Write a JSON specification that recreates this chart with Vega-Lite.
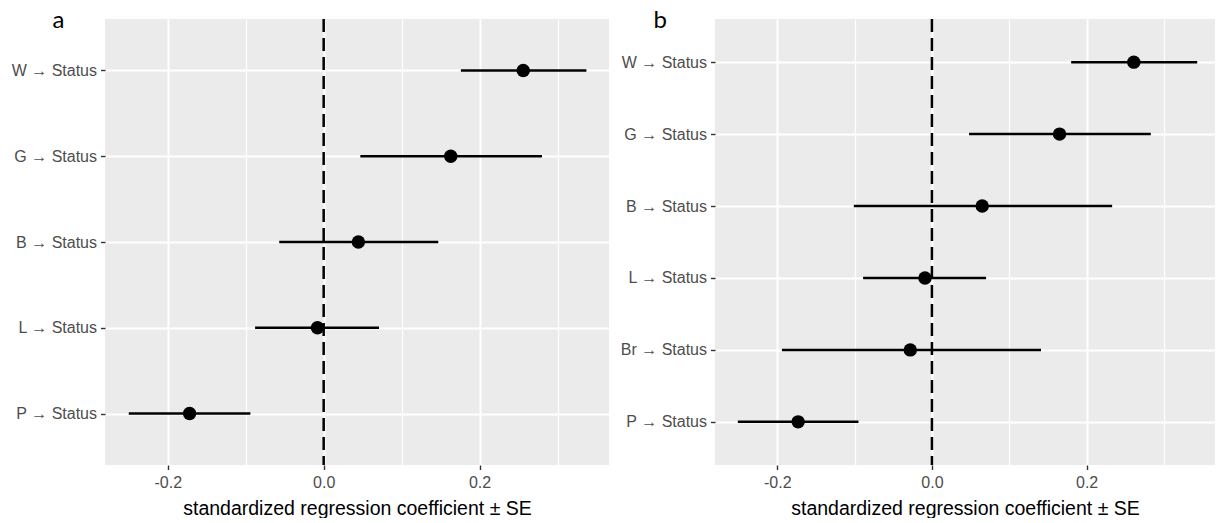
{
  "$schema": "https://vega.github.io/schema/vega-lite/v6.json",
  "background": "white",
  "padding": {"left": 11, "top": 8, "right": 0, "bottom": 0},
  "spacing": 11,
  "datasets": {
    "a": [
      {"path": "W → Status", "est": 0.256, "lo": 0.176, "hi": 0.337},
      {"path": "G → Status", "est": 0.163, "lo": 0.047, "hi": 0.280},
      {"path": "B → Status", "est": 0.0445, "lo": -0.057, "hi": 0.147},
      {"path": "L → Status", "est": -0.008, "lo": -0.088, "hi": 0.071},
      {"path": "P → Status", "est": -0.172, "lo": -0.250, "hi": -0.094}
    ],
    "b": [
      {"path": "W → Status", "est": 0.261, "lo": 0.180, "hi": 0.343},
      {"path": "G → Status", "est": 0.165, "lo": 0.048, "hi": 0.283},
      {"path": "B → Status", "est": 0.065, "lo": -0.101, "hi": 0.233},
      {"path": "L → Status", "est": -0.009, "lo": -0.089, "hi": 0.070},
      {"path": "Br → Status", "est": -0.028, "lo": -0.194, "hi": 0.141},
      {"path": "P → Status", "est": -0.173, "lo": -0.251, "hi": -0.095}
    ],
    "ref": [{"ref": 0}]
  },
  "hconcat": [
    {
      "width": 504,
      "height": 446,
      "layer": [
        {
          "data": {"name": "a"},
          "mark": {"type": "rule", "color": "black", "strokeWidth": 2.5},
          "encoding": {
            "y": {"field": "path", "type": "nominal", "sort": null, "scale": {"type": "point", "padding": 0.6},
              "axis": {"title": "a", "titleX": -53, "titleY": 8, "titleAngle": 0, "titleAlign": "left", "titleBaseline": "alphabetic", "titleFont": "Lato", "titleFontSize": 24, "titleFontWeight": "normal", "titleColor": "black"}},
            "x": {"field": "lo", "type": "quantitative", "title": "standardized regression coefficient ± SE", "scale": {"domain": [-0.2805, 0.366], "nice": false, "zero": false},
              "axis": {
                "values": [-0.2, -0.1, 0, 0.1, 0.2, 0.3],
                "labelExpr": "abs(round(datum.value*10)) % 2 == 1 ? '' : (datum.value < 0 ? '-' : '') + format(abs(datum.value), '.1f')",
                "tickOpacity": {"condition": {"test": "abs(round(datum.value*10)) % 2 == 1", "value": 0}, "value": 1},
                "gridWidth": {"condition": {"test": "abs(round(datum.value*10)) % 2 == 1", "value": 1.2}, "value": 2}
              }},
            "x2": {"field": "hi"}
          }
        },
        {
          "data": {"name": "ref"},
          "mark": {"type": "rule", "color": "black", "strokeWidth": 2.5, "strokeDash": [13, 6]},
          "encoding": {
            "x": {"field": "ref", "type": "quantitative", "title": "standardized regression coefficient ± SE", "scale": {"domain": [-0.2805, 0.366], "nice": false, "zero": false}}
          }
        },
        {
          "data": {"name": "a"},
          "mark": {"type": "point", "filled": true, "shape": "circle", "size": 180, "color": "black", "opacity": 1},
          "encoding": {
            "y": {"field": "path", "type": "nominal", "sort": null, "scale": {"type": "point", "padding": 0.6}},
            "x": {"field": "est", "type": "quantitative", "title": "standardized regression coefficient ± SE", "scale": {"domain": [-0.2805, 0.366], "nice": false, "zero": false}}
          }
        }
      ]
    },
    {
      "width": 500,
      "height": 446,
      "layer": [
        {
          "data": {"name": "b"},
          "mark": {"type": "rule", "color": "black", "strokeWidth": 2.5},
          "encoding": {
            "y": {"field": "path", "type": "nominal", "sort": null, "scale": {"type": "point", "padding": 0.6},
              "axis": {"title": "b", "titleX": -62, "titleY": 8, "titleAngle": 0, "titleAlign": "left", "titleBaseline": "alphabetic", "titleFont": "Lato", "titleFontSize": 24, "titleFontWeight": "normal", "titleColor": "black"}},
            "x": {"field": "lo", "type": "quantitative", "title": "standardized regression coefficient ± SE", "scale": {"domain": [-0.2805, 0.366], "nice": false, "zero": false},
              "axis": {
                "values": [-0.2, -0.1, 0, 0.1, 0.2, 0.3],
                "labelExpr": "abs(round(datum.value*10)) % 2 == 1 ? '' : (datum.value < 0 ? '-' : '') + format(abs(datum.value), '.1f')",
                "tickOpacity": {"condition": {"test": "abs(round(datum.value*10)) % 2 == 1", "value": 0}, "value": 1},
                "gridWidth": {"condition": {"test": "abs(round(datum.value*10)) % 2 == 1", "value": 1.2}, "value": 2}
              }},
            "x2": {"field": "hi"}
          }
        },
        {
          "data": {"name": "ref"},
          "mark": {"type": "rule", "color": "black", "strokeWidth": 2.5, "strokeDash": [13, 6]},
          "encoding": {
            "x": {"field": "ref", "type": "quantitative", "title": "standardized regression coefficient ± SE", "scale": {"domain": [-0.2805, 0.366], "nice": false, "zero": false}}
          }
        },
        {
          "data": {"name": "b"},
          "mark": {"type": "point", "filled": true, "shape": "circle", "size": 180, "color": "black", "opacity": 1},
          "encoding": {
            "y": {"field": "path", "type": "nominal", "sort": null, "scale": {"type": "point", "padding": 0.6}},
            "x": {"field": "est", "type": "quantitative", "title": "standardized regression coefficient ± SE", "scale": {"domain": [-0.2805, 0.366], "nice": false, "zero": false}}
          }
        }
      ]
    }
  ],
  "config": {
    "font": "Liberation Sans",
    "view": {"fill": "#EBEBEB", "stroke": null},
    "axis": {
      "domain": false,
      "gridColor": "white",
      "tickColor": "#333333",
      "tickSize": 4.5,
      "tickWidth": 1.4,
      "labelFont": "Liberation Sans",
      "labelFontSize": 16,
      "labelColor": "#4D4D4D",
      "titleFont": "Liberation Sans",
      "titleFontWeight": "normal",
      "titleColor": "black"
    },
    "axisY": {"grid": true, "gridWidth": 2, "labelPadding": 4},
    "axisX": {
      "grid": true,
      "labelPadding": 5,
      "labelFlush": false,
      "titleFontSize": 19.5,
      "titlePadding": 9
    }
  }
}
